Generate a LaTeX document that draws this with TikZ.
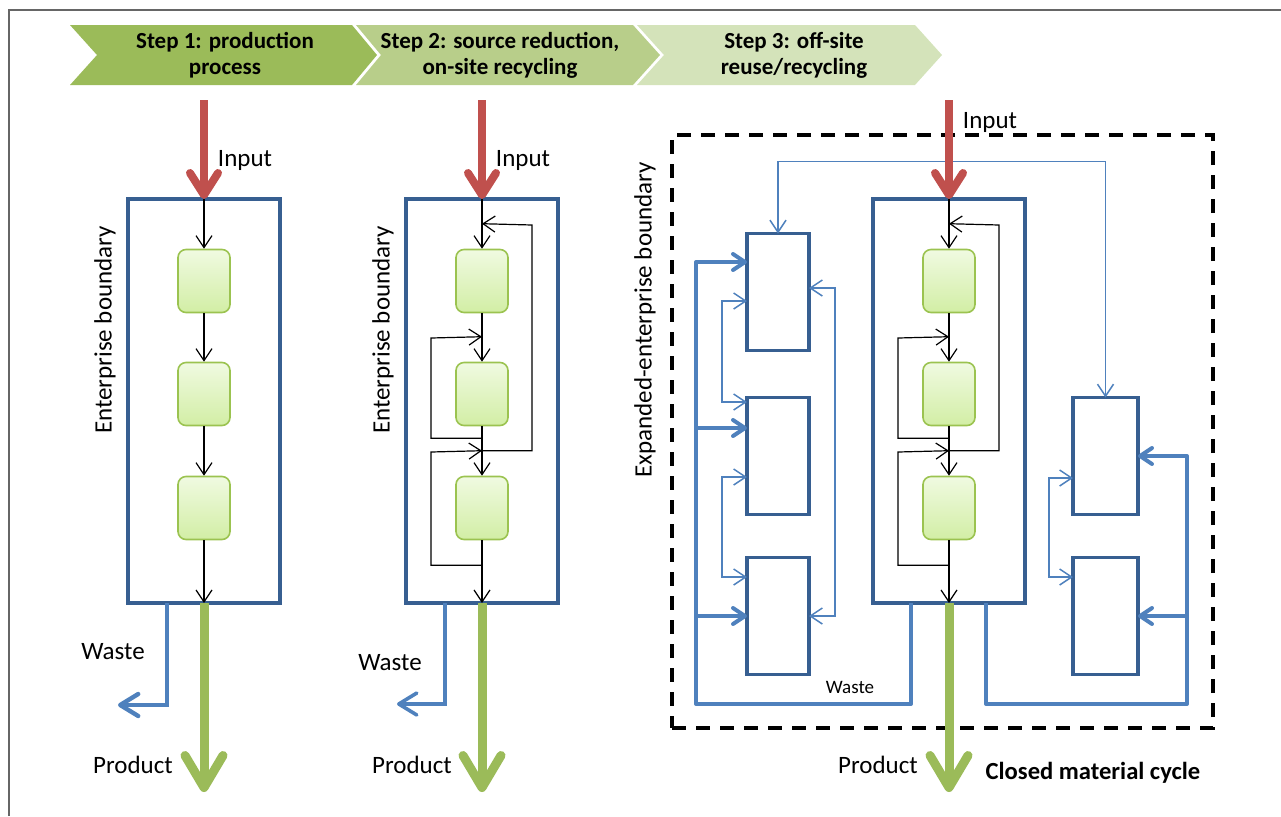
\documentclass[tikz,border=0pt]{standalone}
\usepackage{fontspec}
\setmainfont{Carlito}
\usetikzlibrary{arrows.meta,calc}

\definecolor{boxblue}{RGB}{55,95,145}
\definecolor{linkblue}{RGB}{79,129,189}
\definecolor{inred}{RGB}{192,80,77}
\definecolor{outgreen}{RGB}{155,187,89}
\definecolor{procedge}{RGB}{155,195,80}
\definecolor{proctop}{RGB}{240,250,225}
\definecolor{procbot}{RGB}{210,238,165}
\definecolor{chevA}{RGB}{155,187,89}
\definecolor{chevB}{RGB}{184,206,138}
\definecolor{chevC}{RGB}{212,227,186}

\tikzset{
  txt/.style={inner sep=1pt, font=\fontsize{12.5}{15}\selectfont},
  hdr/.style={align=center, font=\fontsize{11.5}{13}\selectfont\bfseries},
  ent/.style={draw=boxblue, line width=1.6pt, inner sep=0pt, outer sep=0pt, minimum width=76pt, minimum height=202pt},
  proc/.style={draw=procedge, line width=0.8pt, rounded corners=4pt, top color=proctop, bottom color=procbot, inner sep=0pt, minimum width=26pt, minimum height=31.5pt},
  unit/.style={draw=boxblue, line width=1.6pt, inner sep=0pt, outer sep=0pt, minimum width=31pt, minimum height=58.5pt},
  flow/.style={line width=0.6pt, -{Straight Barb[length=6pt,width=8pt]}},
  inflow/.style={draw=inred, line width=4pt, -{Straight Barb[round,length=11pt,width=14pt]}},
  outflow/.style={draw=outgreen, line width=4.5pt, -{Straight Barb[round,length=16pt,width=19pt]}},
  waste/.style={draw=linkblue, line width=2.2pt, -{Straight Barb[round,length=9pt,width=11pt]}},
  recy/.style={draw=linkblue, line width=2pt, line join=round, -{Straight Barb[round,length=6pt,width=8pt]}},
  link/.style={draw=linkblue, line width=0.75pt, {Straight Barb[length=6pt,width=8pt]}-{Straight Barb[length=6pt,width=8pt]}}
}

\begin{document}
\begin{tikzpicture}[x=0.5pt, y=-0.5pt]
  \useasboundingbox (0,0) rectangle (1281,816);
  \draw[line width=0.8pt, black!60] (9,816) -- (9,10) -- (1281,10);

  % steps header
  \fill[chevA] (70,25) -- (352,25) -- (377,55) -- (352,85) -- (70,85) -- (97,55) -- cycle;
  \fill[chevB] (356,25) -- (633,25) -- (660,55) -- (633,85) -- (356,85) -- (381,55) -- cycle;
  \fill[chevC] (637,25) -- (915,25) -- (942,55) -- (915,85) -- (637,85) -- (664,55) -- cycle;
  \node[hdr] (hdr1) at (225,55) {Step 1: production\\process};
  \node[hdr] (hdr2) at (500,55) {Step 2: source reduction,\\on-site recycling};
  \node[hdr] (hdr3) at (794,55) {Step 3: off-site\\reuse/recycling};

  % step 1
  \node[ent] (ent1) at (204,401) {};
  \node[proc] (p1a) at (204,281) {};
  \node[proc] (p1b) at (204,394) {};
  \node[proc] (p1c) at (204,508) {};
  \coordinate (in1) at (204,100);
  \coordinate (out1) at (204,792);
  \coordinate (w1) at (167,705);
  \coordinate (w1e) at (118,705);
  \draw[flow] (ent1.north) -- (p1a);
  \draw[flow] (p1a) -- (p1b);
  \draw[flow] (p1b) -- (p1c);
  \draw[flow] (p1c) -- (ent1.south);
  \draw[waste] (ent1.south -| w1) -- (w1) -- (w1e);
  \draw[outflow] (ent1.south) -- (out1);
  \draw[inflow] (in1) -- (ent1.north);
  \node[txt] (lin1) at (245,160) {Input};
  \node[txt, rotate=90] (leb1) at (105,330) {Enterprise boundary};
  \node[txt] (lw1) at (113,652) {Waste};
  \node[txt] (lp1) at (133,765) {Product};

  % step 2
  \node[ent] (ent2) at (482,401) {};
  \node[proc] (p2a) at (482,281) {};
  \node[proc] (p2b) at (482,394) {};
  \node[proc] (p2c) at (482,508) {};
  \coordinate (in2) at (482,100);
  \coordinate (out2) at (482,792);
  \coordinate (w2) at (445,704);
  \coordinate (w2e) at (397,704);
  \draw[flow] (ent2.north) -- (p2a);
  \draw[flow] (p2a) -- (p2b);
  \draw[flow] (p2b) -- (p2c);
  \draw[flow] (p2c) -- (ent2.south);
  \draw[flow] ($(p2b.south)+(0,12)$) -| (431,338) -- ($(p2b.north)+(0,-25)$);
  \draw[flow] ($(p2c.south)+(0,25)$) -| (431,452) -- ($(p2c.north)+(0,-25)$);
  \draw[flow] ($(p2c.north)+(0,-25)$) -| (532,225) -- ($(p2a.north)+(0,-25)$);
  \draw[waste, line width=1.8pt] (ent2.south -| w2) -- (w2) -- (w2e);
  \draw[outflow] (ent2.south) -- (out2);
  \draw[inflow] (in2) -- (ent2.north);
  \node[txt] (lin2) at (523,160) {Input};
  \node[txt, rotate=90] (leb2) at (383,330) {Enterprise boundary};
  \node[txt] (lw2) at (390,663) {Waste};
  \node[txt] (lp2) at (412,765) {Product};

  % step 3
  \node[draw, line width=2pt, dash pattern=on 7pt off 5pt, minimum width=270.5pt, minimum height=296.5pt] (xent) at (942.5,431.5) {};
  \node[ent] (ent3) at (949,401) {};
  \node[proc] (p3a) at (949,281) {};
  \node[proc] (p3b) at (949,394) {};
  \node[proc] (p3c) at (949,508) {};
  \node[unit] (ext1) at (778,292) {};
  \node[unit] (ext2) at (778,456) {};
  \node[unit] (ext3) at (778,616) {};
  \node[unit, minimum width=32.5pt] (ext4) at (1105.5,456) {};
  \node[unit, minimum width=32.5pt] (ext5) at (1105.5,616) {};
  \coordinate (in3) at (949,100);
  \coordinate (out3) at (949,792);
  \coordinate (w3l) at (911,704);
  \coordinate (w3r) at (986,704);
  \coordinate (lb) at (696,704);
  \coordinate (rb) at (1187,704);
  \draw[link] (ext1.north) |- ($(ext4.north)+(0,-236)$) -- (ext4.north);
  \draw[flow] (ent3.north) -- (p3a);
  \draw[flow] (p3a) -- (p3b);
  \draw[flow] (p3b) -- (p3c);
  \draw[flow] (p3c) -- (ent3.south);
  \draw[flow] ($(p3b.south)+(0,12)$) -| (898,338) -- ($(p3b.north)+(0,-25)$);
  \draw[flow] ($(p3c.south)+(0,25)$) -| (898,452) -- ($(p3c.north)+(0,-25)$);
  \draw[flow] ($(p3c.north)+(0,-25)$) -| (999,225) -- ($(p3a.north)+(0,-25)$);
  \draw[recy] (ent3.south -| w3l) |- (lb) |- ([yshift=15pt]ext1.west);
  \draw[recy] (lb) |- ([yshift=14pt]ext2.west);
  \draw[recy] (lb) |- (ext3.west);
  \draw[recy] (ent3.south -| w3r) |- (rb) |- (ext4.east);
  \draw[recy] (rb) |- (ext5.east);
  \draw[link] ([yshift=-4.5pt]ext1.west) -- ++(-25,0) |- ([yshift=27pt]ext2.west);
  \draw[link] ([yshift=-10.5pt]ext2.west) -- ++(-25,0) |- ([yshift=19.5pt]ext3.west);
  \draw[link] ([yshift=2pt]ext1.east) -- ++(26,0) |- (ext3.east);
  \draw[link] ([yshift=-11pt]ext4.west) -- ++(-24,0) |- ([yshift=19.5pt]ext5.west);
  \draw[outflow] (ent3.south) -- (out3);
  \draw[inflow] (in3) -- (ent3.north);
  \node[txt] (lin3) at (990,122) {Input};
  \node[txt, rotate=90] (leb3) at (645,320) {Expanded-enterprise boundary};
  \node[txt, font=\fontsize{9.5}{11}\selectfont] (lw3) at (850,687) {Waste};
  \node[txt] (lp3) at (878,765) {Product};
  \node[txt, font=\fontsize{12.3}{15}\selectfont\bfseries] (lcyc) at (1093,773) {Closed material cycle};
\end{tikzpicture}
\end{document}
